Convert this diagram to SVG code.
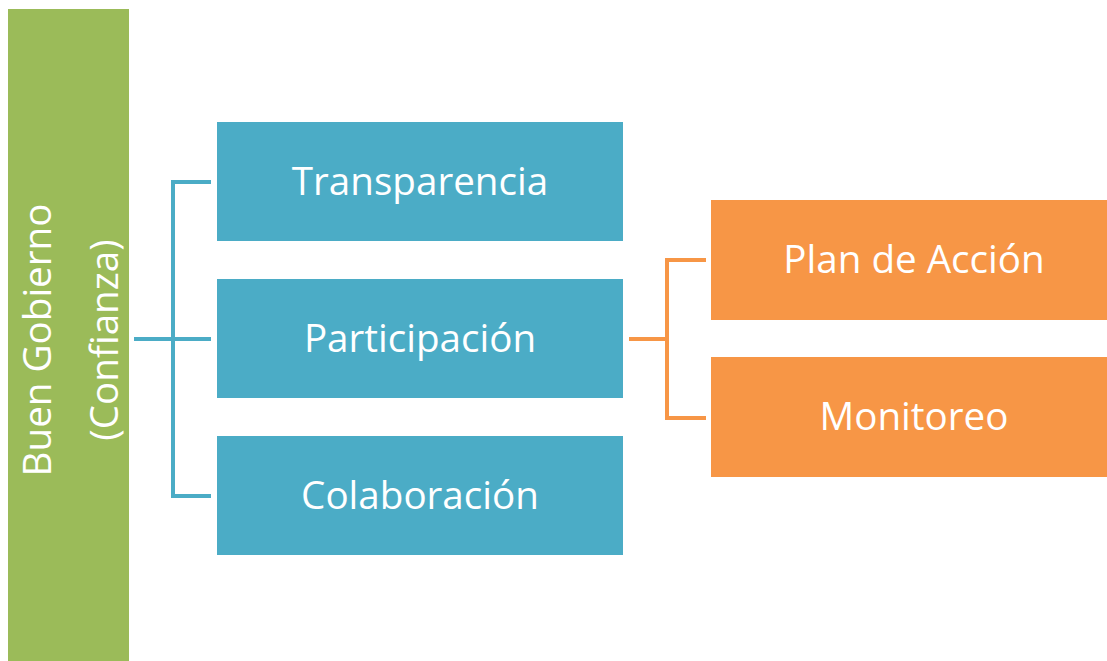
<svg xmlns="http://www.w3.org/2000/svg" width="1107" height="661" viewBox="0 0 1107 661">
<style>
.t{font-family:"Open Sans","Liberation Sans",sans-serif;font-size:38.6px;fill:#fff;text-anchor:middle;dominant-baseline:central}
.b{fill:#4BACC6}
.o{fill:#F79646}
.cb{fill:none;stroke:#4BACC6;stroke-width:4}
.co{fill:none;stroke:#F79646;stroke-width:4}
</style>
<rect width="1107" height="661" fill="#fff"/>
<g id="root">
<rect x="8" y="9" width="121" height="652" fill="#9BBB59"/>
<text class="t" transform="translate(36,340) rotate(-90)">Buen Gobierno</text>
<text class="t" transform="translate(103,340) rotate(-90)">(Confianza)</text>
</g>
<g id="connectors">
<path class="cb" d="M134,339 H211 M211,182 H173 V496 H211"/>
<path class="co" d="M629,339 H667 M706,260 H667 V418 H706"/>
</g>
<g id="transparencia"><rect class="b" x="217" y="122" width="406" height="119"/><text class="t" x="420" y="180">Transparencia</text></g>
<g id="participacion"><rect class="b" x="217" y="279" width="406" height="119"/><text class="t" x="420" y="337">Participación</text></g>
<g id="colaboracion"><rect class="b" x="217" y="436" width="406" height="119"/><text class="t" x="420" y="494">Colaboración</text></g>
<g id="plan"><rect class="o" x="711" y="200" width="396" height="120"/><text class="t" x="914" y="258">Plan de Acción</text></g>
<g id="monitoreo"><rect class="o" x="711" y="357" width="396" height="120"/><text class="t" x="914" y="415">Monitoreo</text></g>
</svg>
